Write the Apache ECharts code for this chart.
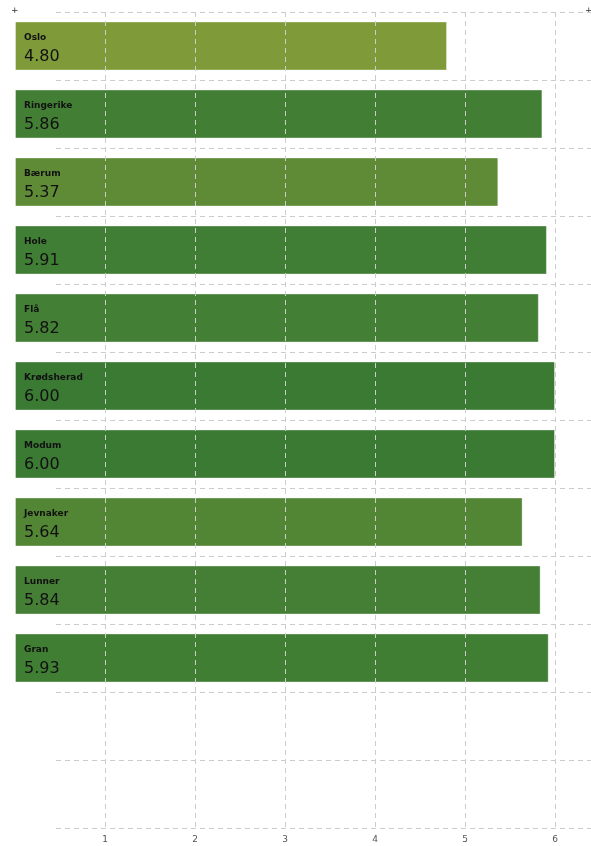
<!DOCTYPE html>
<html>
<head>
<meta charset="utf-8">
<script src="https://cdn.jsdelivr.net/npm/echarts@6/dist/echarts.min.js"></script>
<style>
html,body{margin:0;padding:0;background:#fff;}
#chart{width:591px;height:846px;}
</style>
</head>
<body>
<div id="chart"></div>
<script>
const categories = ['Oslo','Ringerike','Bærum','Hole','Flå','Krødsherad','Modum','Jevnaker','Lunner','Gran','',''];
const values = [4.80, 5.86, 5.37, 5.91, 5.82, 6.00, 6.00, 5.64, 5.84, 5.93];
const barColors = ['#7f9b39','#427f35','#5f8b37','#417e35','#437f35','#3a7a33','#3a7a33','#538634','#447f35','#407e34'];
const tickLabels = ['1','2','3','4','5','6'];

const chart = echarts.init(document.getElementById('chart'));
const gridLine = {show:true, lineStyle:{color:'#cccccc', type:[5,4], width:1}};
chart.setOption({
  animation:false,
  grid:[
    {left:15, right:0, top:12, bottom:18},
    {left:56, right:0, top:12, bottom:18}
  ],
  xAxis:[
    {gridIndex:0, type:'value', min:0, max:6.4, interval:1, z:10,
     axisLine:{show:false}, axisTick:{show:false},
     splitLine:Object.assign({showMinLine:false, showMaxLine:false}, gridLine),
     axisLabel:{showMinLabel:false, showMaxLabel:false, fontSize:9, color:'#555', fontFamily:'DejaVu Sans', margin:7,
       formatter:function(v){ const i = tickLabels.indexOf(String(v)); return i>=0 ? tickLabels[i] : ''; }}},
    {gridIndex:1, type:'value', min:0, max:1, show:false}
  ],
  yAxis:[
    {gridIndex:0, type:'category', data:categories, inverse:true,
     axisLine:{show:false}, axisTick:{show:false}, axisLabel:{show:false}, splitLine:{show:false}},
    {gridIndex:1, type:'category', data:categories, inverse:true,
     axisLine:{show:false}, axisTick:{show:false}, axisLabel:{show:false}, splitLine:gridLine}
  ],
  graphic:[
    {type:'text', left:11, top:6, style:{text:'+', fontSize:9, fill:'#333', fontFamily:'DejaVu Sans'}},
    {type:'text', left:585, top:6, style:{text:'+', fontSize:9, fill:'#333', fontFamily:'DejaVu Sans'}}
  ],
  series:[{
    type:'bar', xAxisIndex:0, yAxisIndex:0, barWidth:49,
    data: values.map((v,i)=>({value:v, itemStyle:{color:barColors[i]}})),
    itemStyle:{borderColor:'rgba(255,255,255,0.35)', borderWidth:1},
    label:{show:true, position:[9,9],
      formatter:function(p){ return '{n|'+categories[p.dataIndex]+'}\n{v|'+p.value.toFixed(2)+'}'; },
      rich:{
        n:{fontSize:9, fontWeight:'bold', color:'#111', fontFamily:'DejaVu Sans', lineHeight:14},
        v:{fontSize:16, color:'#111', fontFamily:'DejaVu Sans', lineHeight:24}
      }}
  }]
});
</script>
</body>
</html>
